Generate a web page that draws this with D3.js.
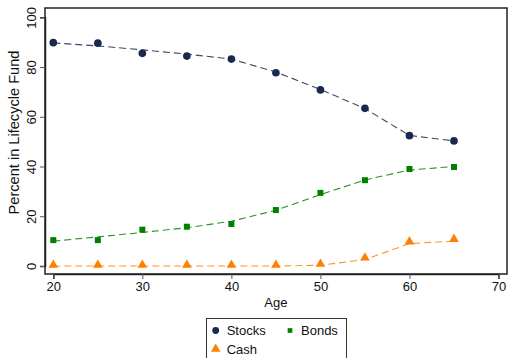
<!DOCTYPE html>
<html>
<head>
<meta charset="utf-8">
<script src="https://cdn.jsdelivr.net/npm/d3@7"></script>
<style>
  body { margin: 0; background: #fff; }
  svg { display: block; font-family: "Liberation Sans", Arial, Helvetica, sans-serif; }
</style>
</head>
<body>
<svg id="chart" width="508" height="358"></svg>
<script>
const ages = [20, 25, 30, 35, 40, 45, 50, 55, 60, 65];
const stocks = [89.8, 89.6, 85.5, 84.4, 83.2, 77.7, 70.8, 63.4, 52.4, 50.3];
const bonds = [10.4, 10.4, 14.6, 15.8, 16.9, 22.5, 29.4, 34.5, 39.0, 39.8];
const cash = [0, 0, 0, 0, 0, 0, 0.4, 2.9, 9.4, 10.4];
const stocksFit = [89.7, 88.5, 86.9, 85.2, 83.2, 78.0, 71.0, 63.3, 52.5, 50.3];
const bondsFit = [10.0, 11.7, 13.5, 15.4, 18.0, 22.4, 28.7, 34.6, 38.6, 40.0];
const cashFit = [0, 0, 0, 0, 0, 0, 0.3, 2.6, 9.0, 10.0];
const xTicks = [20, 30, 40, 50, 60, 70];
const yTicks = [0, 20, 40, 60, 80, 100];
const seriesNames = ["Stocks", "Bonds", "Cash"];
const colors = { Stocks: "#1a2a4e", Bonds: "#008000", Cash: "#ff8000" };

const svg = d3.select("#chart");
const x = d3.scaleLinear().domain([20, 70]).range([53.3, 498.5]);
const y = d3.scaleLinear().domain([0, 100]).range([266, 17.3]);
const frame = { left: 45, right: 507, top: 8, bottom: 274 };

// frame
svg.append("rect").attr("x", frame.left).attr("y", frame.top)
  .attr("width", frame.right - frame.left).attr("height", frame.bottom - frame.top)
  .attr("fill", "#fff").attr("stroke", "#222").attr("stroke-width", 1.5);

// x axis
const xAxis = svg.append("g").attr("transform", `translate(0,${frame.bottom})`)
  .call(d3.axisBottom(x).tickValues(xTicks).tickSize(5).tickPadding(3).tickFormat(d3.format("d")));
xAxis.select(".domain").attr("stroke", "#222").attr("stroke-width", 1.5);
xAxis.selectAll(".tick line").attr("stroke", "#555");
xAxis.selectAll(".tick text").attr("font-size", 13).attr("fill", "#111")
  .attr("font-family", "Liberation Sans, Arial, sans-serif");

// y axis
const yAxis = svg.append("g").attr("transform", `translate(${frame.left},0)`)
  .call(d3.axisLeft(y).tickValues(yTicks).tickSize(5).tickFormat(d3.format("d")));
yAxis.select(".domain").attr("stroke", "#222").attr("stroke-width", 1.5);
yAxis.selectAll(".tick line").attr("stroke", "#555");
yAxis.selectAll(".tick text")
  .attr("font-size", 13).attr("fill", "#111")
  .attr("font-family", "Liberation Sans, Arial, sans-serif")
  .attr("x", null).attr("dy", null)
  .attr("text-anchor", "middle")
  .attr("transform", "translate(-9.5,0) rotate(-90)");

// axis titles
svg.append("text").attr("x", x(45)).attr("y", 307).attr("text-anchor", "middle")
  .attr("font-size", 13).attr("fill", "#111").text("Age");
svg.append("text").attr("transform", `translate(18.5,132.5) rotate(-90)`)
  .attr("text-anchor", "middle").attr("font-size", 14.6).attr("fill", "#111")
  .text("Percent in Lifecycle Fund");

// fitted dashed lines
const line = d3.line().x((d, i) => x(ages[i])).y(d => y(d));
[["Stocks", stocksFit], ["Bonds", bondsFit], ["Cash", cashFit]].forEach(([name, vals]) => {
  svg.append("path").datum(vals).attr("d", line)
    .attr("fill", "none").attr("stroke", colors[name]).attr("stroke-width", 1.1)
    .attr("stroke-dasharray", "7,4").attr("opacity", 0.85);
});

// markers
const sym = { Stocks: d3.symbolCircle, Bonds: d3.symbolSquare, Cash: d3.symbolTriangle };
const size = { Stocks: 46, Bonds: 36, Cash: 40 };
[["Stocks", stocks], ["Bonds", bonds], ["Cash", cash]].forEach(([name, vals]) => {
  svg.append("g").selectAll("path").data(vals).join("path")
    .attr("d", d3.symbol().type(sym[name]).size(size[name]))
    .attr("transform", (d, i) => `translate(${x(ages[i])},${y(d) + (name === "Cash" ? -1 : 0)})`)
    .attr("fill", colors[name]);
});

// legend
const lg = svg.append("g");
lg.append("rect").attr("x", 206.5).attr("y", 318.5).attr("width", 140).attr("height", 50)
  .attr("fill", "#fff").attr("stroke", "#333").attr("stroke-width", 1);
const legendPos = { Stocks: [215.7, 330.5], Bonds: [290, 330.5], Cash: [215.7, 349] };
const legendSize = { Stocks: 36, Bonds: 22, Cash: 40 };
seriesNames.forEach(name => {
  const [lx, ly] = legendPos[name];
  lg.append("path").attr("d", d3.symbol().type(sym[name]).size(legendSize[name])())
    .attr("transform", `translate(${lx},${ly})`).attr("fill", colors[name]);
  lg.append("text").attr("x", lx + 11).attr("y", ly + 4.5).attr("font-size", 13)
    .attr("fill", "#111").text(name);
});
</script>
</body>
</html>
